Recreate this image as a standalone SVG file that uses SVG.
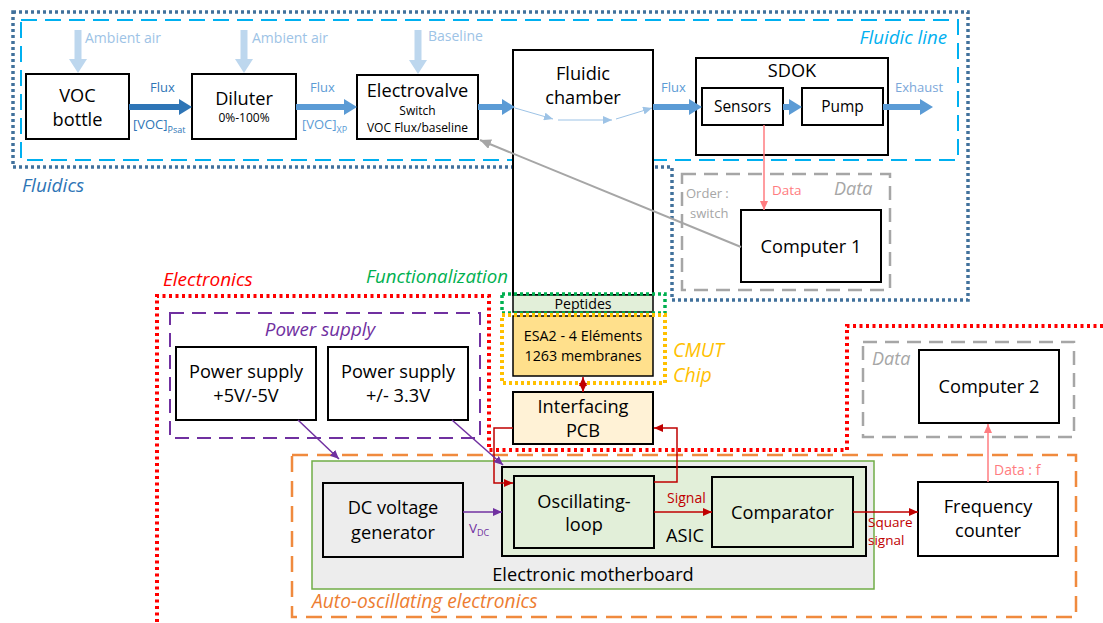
<svg xmlns="http://www.w3.org/2000/svg" width="1103" height="623" viewBox="0 0 1103 623">
<style>
text{font-family:"Open Sans","Liberation Sans",sans-serif;fill:#000}
.n{font-size:18.2px;text-anchor:middle}
.s{font-size:12px;text-anchor:middle}
.box{fill:#fff;stroke:#000;stroke-width:2}
.it{font-style:italic}
.amb{font-size:14px;fill:#9DC3E6}
.flx{font-size:13px;fill:#5B9BD5}
.flow{stroke:#5B9BD5;stroke-width:6;fill:none}
.amba{stroke:#BDD7EE;stroke-width:7;fill:none}
</style>
<defs>
<marker id="hDark" markerUnits="userSpaceOnUse" markerWidth="13" markerHeight="16" refX="0" refY="8" orient="auto"><path d="M0,0 L13,8 L0,16 z" fill="#2E75B6"/></marker>
<marker id="hMid" markerUnits="userSpaceOnUse" markerWidth="13" markerHeight="16" refX="0" refY="8" orient="auto"><path d="M0,0 L13,8 L0,16 z" fill="#5B9BD5"/></marker>
<marker id="hAmb" markerUnits="userSpaceOnUse" markerWidth="14" markerHeight="18" refX="0" refY="9" orient="auto"><path d="M0,0 L14,9 L0,18 z" fill="#BDD7EE"/></marker>
<marker id="hThin" markerUnits="userSpaceOnUse" markerWidth="9" markerHeight="8" refX="9" refY="4" orient="auto"><path d="M0,0 L9,4 L0,8 z" fill="#9DC3E6"/></marker>
<marker id="hRed" markerUnits="userSpaceOnUse" markerWidth="9" markerHeight="8" refX="9" refY="4" orient="auto"><path d="M0,0 L9,4 L0,8 z" fill="#FF7C80"/></marker>
<marker id="hDR" markerUnits="userSpaceOnUse" markerWidth="9" markerHeight="8" refX="9" refY="4" orient="auto"><path d="M0,0 L9,4 L0,8 z" fill="#C00000"/></marker>
<marker id="hDRs" markerUnits="userSpaceOnUse" markerWidth="9" markerHeight="8" refX="0" refY="4" orient="auto"><path d="M9,0 L0,4 L9,8 z" fill="#C00000"/></marker>
<marker id="hPur" markerUnits="userSpaceOnUse" markerWidth="9" markerHeight="8" refX="9" refY="4" orient="auto"><path d="M0,0 L9,4 L0,8 z" fill="#7030A0"/></marker>
<marker id="hGray" markerUnits="userSpaceOnUse" markerWidth="11" markerHeight="10" refX="11" refY="5" orient="auto"><path d="M0,0 L11,5 L0,10 z" fill="#A6A6A6"/></marker>
</defs>

<g id="groups">
<path d="M13,12 H968 V300 H672 V167 H13 Z" fill="none" stroke="#41719C" stroke-width="3.5" stroke-dasharray="3 3"/>
<rect x="21" y="20" width="937" height="140" fill="none" stroke="#00B0F0" stroke-width="2" stroke-dasharray="16 8"/>
<rect x="682" y="174" width="208" height="116" fill="none" stroke="#A6A6A6" stroke-width="2.5" stroke-dasharray="14 8"/>
<path d="M1103,326 H847 V450 H489 V296 H157 V623" fill="none" stroke="#FF0000" stroke-width="4" stroke-dasharray="3 3.5"/>
<rect x="170" y="313" width="310" height="125" fill="none" stroke="#7030A0" stroke-width="2" stroke-dasharray="14 8"/>
<rect x="863" y="342" width="211" height="95" fill="none" stroke="#A6A6A6" stroke-width="2.5" stroke-dasharray="14 8"/>
<rect x="292" y="455" width="784" height="162" fill="none" stroke="#F08A3E" stroke-width="2.5" stroke-dasharray="16 9"/>
<rect x="312" y="461" width="562" height="128" fill="#EDEDED" stroke="#70AD47" stroke-width="1.5"/>
<text x="22" y="192" class="it" style="font-size:19px;fill:#2E75B6">Fluidics</text>
<text x="947" y="44" class="it" style="font-size:18.7px;fill:#00B0F0;text-anchor:end">Fluidic line</text>
<text x="834" y="195" class="it" style="font-size:18px;fill:#A6A6A6">Data</text>
<text x="872" y="365" class="it" style="font-size:18px;fill:#A6A6A6">Data</text>
<text x="163" y="286" class="it" style="font-size:19px;fill:#FF0000">Electronics</text>
<text x="366" y="283" class="it" style="font-size:18.7px;fill:#00B050">Functionalization</text>
<text x="320" y="336" class="it" style="font-size:18.8px;fill:#7030A0;text-anchor:middle">Power supply</text>
<text x="673" y="357" class="it" style="font-size:19.5px;fill:#FFC000">CMUT</text>
<text x="673" y="382" class="it" style="font-size:19.5px;fill:#FFC000">Chip</text>
<text x="312" y="608" class="it" style="font-size:19.2px;fill:#ED7D31">Auto-oscillating electronics</text>
<text x="593" y="581" class="n">Electronic motherboard</text>
</g>

<g id="voc-bottle"><rect class="box" x="26" y="74" width="103" height="65"/><text class="n" x="77.5" y="102">VOC</text><text class="n" x="77.5" y="126">bottle</text></g>
<g id="diluter"><rect class="box" x="192" y="74" width="104" height="65"/><text class="n" x="244" y="105">Diluter</text><text class="s" x="244" y="122">0%-100%</text></g>
<g id="electrovalve"><rect class="box" x="357" y="75" width="121" height="64"/><text class="n" x="417.5" y="97">Electrovalve</text><text class="s" x="417.5" y="115">Switch</text><text class="s" x="417.5" y="132">VOC Flux/baseline</text></g>
<g id="fluidic-chamber"><rect class="box" x="513" y="50" width="140" height="245"/><text class="n" x="583" y="80">Fluidic</text><text class="n" x="583" y="104">chamber</text></g>
<g id="peptides"><rect x="513" y="295" width="140" height="17" fill="#E2EFD9" stroke="#000" stroke-width="1.5"/><text x="583" y="309" style="font-size:14.2px;text-anchor:middle">Peptides</text></g>
<g id="functionalization-box"><rect x="502" y="294" width="163" height="19" fill="none" stroke="#00B050" stroke-width="3.5" stroke-dasharray="3 3"/></g>
<g id="esa2"><rect x="513" y="316" width="140" height="60" fill="#FFE08C" stroke="#000" stroke-width="1.5"/><text x="583" y="341" style="font-size:14.3px;text-anchor:middle">ESA2 - 4 Eléments</text><text x="583" y="361" style="font-size:14.3px;text-anchor:middle">1263 membranes</text></g>
<g id="cmut-chip"><rect x="502" y="315" width="163" height="68" fill="none" stroke="#FFC000" stroke-width="4" stroke-dasharray="3 3"/></g>
<g id="sdok"><rect class="box" x="696" y="58" width="192" height="97"/><text class="n" x="792" y="77">SDOK</text></g>
<g id="sensors"><rect class="box" x="702" y="88" width="81" height="37"/><text x="742.5" y="112" style="font-size:15.5px;text-anchor:middle">Sensors</text></g>
<g id="pump"><rect class="box" x="802" y="88" width="81" height="37"/><text x="842.5" y="112" style="font-size:15.5px;text-anchor:middle">Pump</text></g>
<g id="computer-1"><rect class="box" x="741" y="210" width="140" height="72"/><text class="n" x="811" y="253">Computer 1</text></g>
<g id="interfacing-pcb"><rect x="513" y="392" width="140" height="52" fill="#FFF2D6" stroke="#000" stroke-width="2"/><text class="n" x="583" y="413">Interfacing</text><text class="n" x="583" y="437">PCB</text></g>
<g id="power-5v"><rect class="box" x="176" y="347" width="140" height="73"/><text class="n" x="246" y="378">Power supply</text><text class="n" x="246" y="402">+5V/-5V</text></g>
<g id="power-3v3"><rect class="box" x="328" y="347" width="140" height="73"/><text class="n" x="398" y="378">Power supply</text><text class="n" x="398" y="402">+/- 3.3V</text></g>
<g id="dc-generator"><rect x="323" y="483" width="140" height="74" fill="#EDEDED" stroke="#000" stroke-width="2"/><text class="n" x="393" y="514">DC voltage</text><text class="n" x="393" y="539">generator</text></g>
<g id="asic"><rect x="502" y="467" width="364" height="89" fill="#E2EFD9" stroke="#000" stroke-width="2"/><text x="666" y="542" style="font-size:18.2px">ASIC</text></g>
<g id="oscillating-loop"><rect x="514" y="476" width="140" height="72" fill="#E2EFD9" stroke="#000" stroke-width="2"/><text class="n" x="584" y="508">Oscillating-</text><text class="n" x="584" y="531">loop</text></g>
<g id="comparator"><rect x="712" y="477" width="141" height="70" fill="#E2EFD9" stroke="#000" stroke-width="2"/><text class="n" x="782.5" y="519">Comparator</text></g>
<g id="frequency-counter"><rect class="box" x="918" y="482" width="140" height="74"/><text class="n" x="988" y="513">Frequency</text><text class="n" x="988" y="537">counter</text></g>
<g id="computer-2"><rect class="box" x="919" y="350" width="140" height="73"/><text class="n" x="989" y="393">Computer 2</text></g>

<g id="connectors">
<line class="amba" x1="78" y1="30" x2="78" y2="59" marker-end="url(#hAmb)"/>
<line class="amba" x1="244" y1="30" x2="244" y2="59" marker-end="url(#hAmb)"/>
<line class="amba" x1="418" y1="30" x2="418" y2="60" marker-end="url(#hAmb)"/>
<text class="amb" x="85" y="43">Ambient air</text>
<text class="amb" x="252" y="43">Ambient air</text>
<text class="amb" x="428" y="41">Baseline</text>
<line x1="129" y1="107" x2="179" y2="107" stroke="#2E75B6" stroke-width="6" marker-end="url(#hDark)"/>
<text x="150" y="92" style="font-size:13px;fill:#2E75B6">Flux</text>
<text x="133" y="129" style="font-size:13px;fill:#2E75B6">[VOC]<tspan dy="4" style="font-size:9px">Psat</tspan></text>
<line class="flow" x1="296" y1="107" x2="344" y2="107" marker-end="url(#hMid)"/>
<text class="flx" x="310" y="92">Flux</text>
<text class="flx" x="302" y="129">[VOC]<tspan dy="4" style="font-size:9px">XP</tspan></text>
<line class="flow" x1="478" y1="107" x2="502" y2="107" marker-end="url(#hMid)"/>
<line x1="515" y1="108" x2="553" y2="119" stroke="#9DC3E6" stroke-width="1" marker-end="url(#hThin)"/>
<line x1="558" y1="120" x2="612" y2="120" stroke="#9DC3E6" stroke-width="1" marker-end="url(#hThin)"/>
<line x1="616" y1="119" x2="652" y2="108" stroke="#9DC3E6" stroke-width="1" marker-end="url(#hThin)"/>
<line class="flow" x1="653" y1="107" x2="689" y2="107" marker-end="url(#hMid)"/>
<text class="flx" x="661" y="92">Flux</text>
<line class="flow" x1="783" y1="107" x2="789" y2="107" marker-end="url(#hMid)"/>
<line class="flow" x1="883" y1="107" x2="920" y2="107" marker-end="url(#hMid)"/>
<text class="flx" x="895" y="92" style="fill:#7BA7D9">Exhaust</text>
<line x1="764" y1="125" x2="764" y2="210" stroke="#FF7C80" stroke-width="1.5" marker-end="url(#hRed)"/>
<text x="772" y="195" style="font-size:13.5px;fill:#FF7C80">Data</text>
<line x1="741" y1="247" x2="480" y2="140" stroke="#A6A6A6" stroke-width="2" marker-end="url(#hGray)"/>
<text x="686" y="198" style="font-size:13px;fill:#A6A6A6">Order :</text>
<text x="690" y="218" style="font-size:13px;fill:#A6A6A6">switch</text>
<line x1="583" y1="377" x2="583" y2="392" stroke="#C00000" stroke-width="1.5" marker-start="url(#hDRs)" marker-end="url(#hDR)"/>
<path d="M513,428 H494 V483 H513" fill="none" stroke="#C00000" stroke-width="1.5" marker-end="url(#hDR)"/>
<path d="M654,482 H677 V428 H654" fill="none" stroke="#C00000" stroke-width="1.5" marker-end="url(#hDR)"/>
<line x1="298" y1="420" x2="339" y2="459" stroke="#7030A0" stroke-width="1.5" marker-end="url(#hPur)"/>
<line x1="452" y1="420" x2="503" y2="465" stroke="#7030A0" stroke-width="1.5" marker-end="url(#hPur)"/>
<line x1="463" y1="512" x2="502" y2="512" stroke="#7030A0" stroke-width="1.5" marker-end="url(#hPur)"/>
<text x="469" y="533" style="font-size:13.5px;fill:#7030A0">V<tspan dy="3" style="font-size:9px">DC</tspan></text>
<line x1="654" y1="512" x2="712" y2="512" stroke="#C00000" stroke-width="1.5" marker-end="url(#hDR)"/>
<text x="667" y="503" style="font-size:14px;fill:#C00000">Signal</text>
<line x1="853" y1="512" x2="918" y2="512" stroke="#C00000" stroke-width="1.5" marker-end="url(#hDR)"/>
<text x="868" y="527" style="font-size:13.5px;fill:#C00000">Square</text>
<text x="868" y="545" style="font-size:13.5px;fill:#C00000">signal</text>
<line x1="988" y1="482" x2="988" y2="424" stroke="#FF7C80" stroke-width="1.5" marker-end="url(#hRed)"/>
<text x="994" y="475" style="font-size:14px;fill:#FF7C80">Data : f</text>
</g>
</svg>
